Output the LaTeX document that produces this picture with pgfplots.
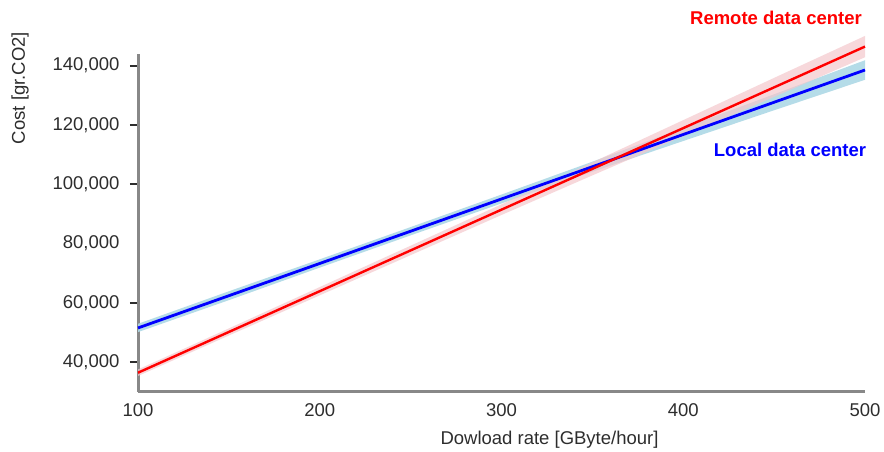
\documentclass[border=0pt]{standalone}
\usepackage{fontspec}
\setmainfont{Liberation Sans}
\usepackage{pgfplots}
\pgfplotsset{compat=1.18}
\usepgfplotslibrary{fillbetween}
\definecolor{txt}{RGB}{45,45,45}
\definecolor{axgray}{RGB}{136,136,136}
\definecolor{bandblue}{RGB}{173,216,230}
\definecolor{bandred}{RGB}{244,200,204}
\begin{document}
\begin{tikzpicture}
\begin{axis}[
  at={(138pt,60pt)}, anchor=south west,
  scale only axis, width=727pt, height=338pt,
  xmin=100, xmax=500, ymin=29900, ymax=143900,
  clip=false,
  axis x line*=bottom, axis y line*=left,
  axis line style={axgray, line width=3pt, -},
  xtick={100,200,300,400,500},
  ytick={40000,60000,100000,120000,140000},
  extra y ticks={80000},
  extra y tick style={ytick style={draw=none}},
  scaled y ticks=false,
  tick align=outside,
  major tick length=8pt,
  xtick style={draw=none},
  ytick style={draw=txt, line width=2pt},
  tick label style={font=\fontsize{18.5}{21}\selectfont, text=txt},
  yticklabel style={xshift=-7pt, /pgf/number format/fixed, /pgf/number format/1000 sep={,}},
  /pgf/number format/assume math mode=true,
]
\addplot[name path=bu, draw=none] coordinates {(100,52900) (150,63875) (200,74650) (250,85525) (300,96500) (350,107575) (400,118950) (450,130325) (500,141800)};
\addplot[name path=bl, draw=none] coordinates {(100,50100) (150,60875) (200,71850) (250,82725) (300,93500) (350,104175) (400,114550) (450,124925) (500,135200)};
\addplot[name path=ru, draw=none] coordinates {(100,37500) (150,51350) (200,65300) (250,79250) (300,93200) (350,107350) (400,121600) (450,135850) (500,150000)};
\addplot[name path=rl, draw=none] coordinates {(100,35300) (150,48950) (200,62500) (250,76050) (300,89600) (350,102950) (400,116200) (450,129450) (500,142800)};
\addplot[bandblue, fill opacity=0.9] fill between[of=bu and bl];
\addplot[bandred, fill opacity=0.7] fill between[of=ru and rl];
\addplot[blue, line width=2.8pt] coordinates {(100,51500) (500,138500)};
\addplot[red, line width=2.4pt] coordinates {(100,36400) (500,146400)};
\end{axis}
\node[red, font=\bfseries\fontsize{18.5}{21}\selectfont] at (776pt,434pt) {Remote data center};
\node[blue, font=\bfseries\fontsize{18.5}{21}\selectfont] at (790pt,302pt) {Local data center};
\node[txt, rotate=90, font=\fontsize{18.5}{21}\selectfont] at (20pt,364pt) {Cost [gr.CO2]};
\node[txt, font=\fontsize{18.5}{21}\selectfont] at (549.5pt,12pt) {Dowload rate [GByte/hour]};
\path (0,0) rectangle (884pt,452pt);
\end{tikzpicture}
\end{document}
